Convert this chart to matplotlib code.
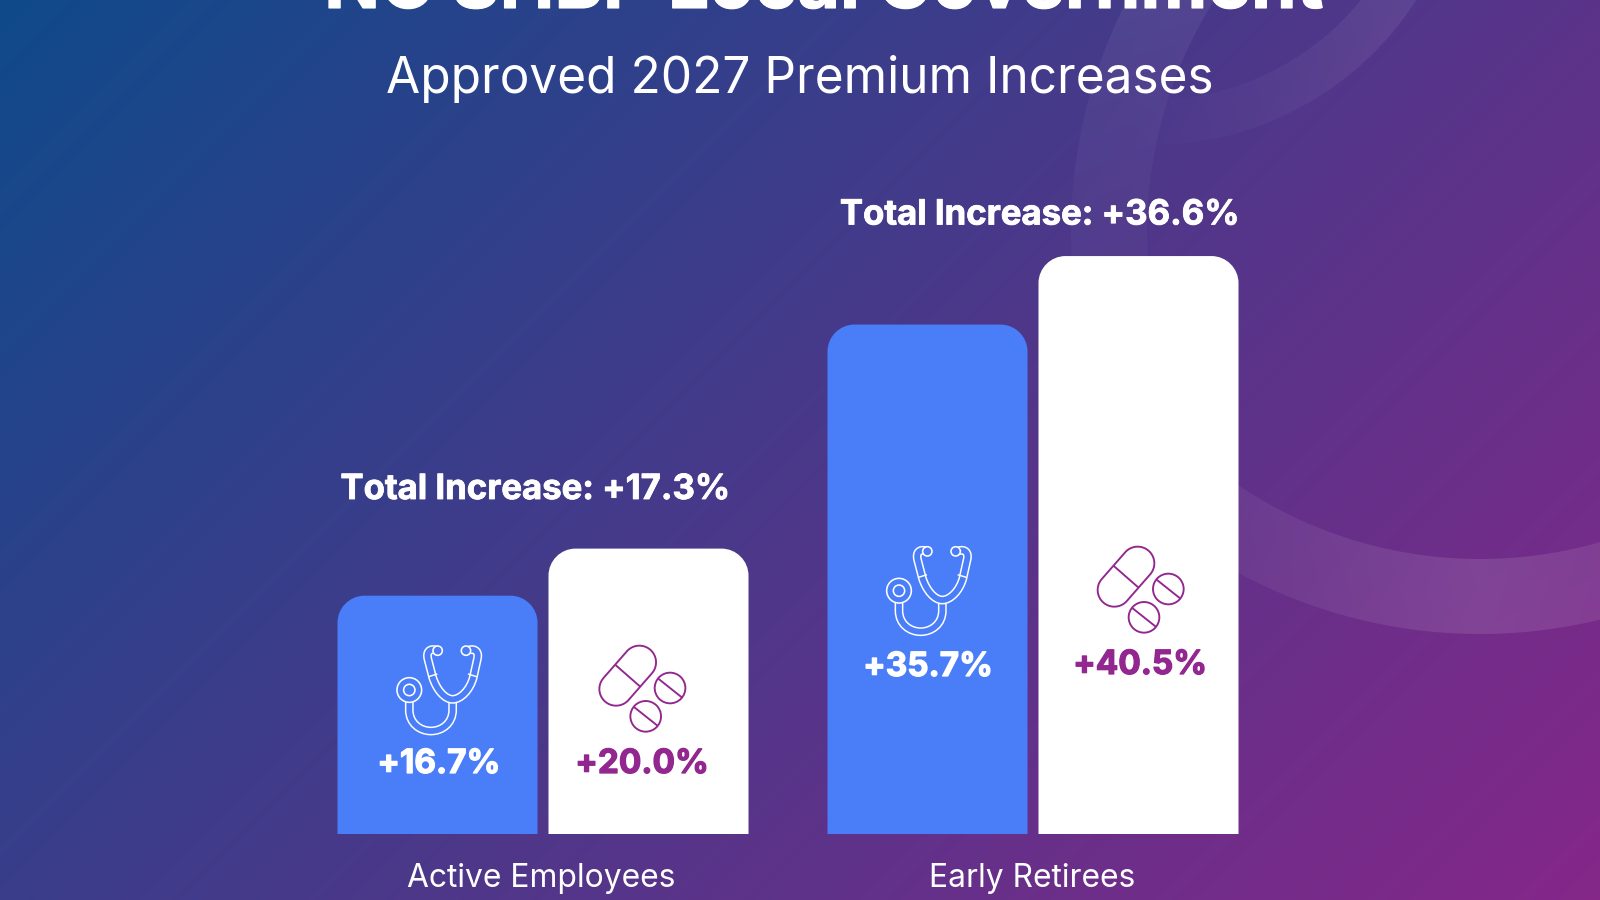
import numpy as np
import matplotlib
matplotlib.use("Agg")
import matplotlib.pyplot as plt
import matplotlib.patheffects as pe
from matplotlib.path import Path
from matplotlib.patches import PathPatch, Circle
from matplotlib.transforms import Affine2D
from matplotlib.colors import to_rgb

# ---------- data ----------
groups = ["Active Employees", "Early Retirees"]
medical = [16.7, 35.7]
pharmacy = [20.0, 40.5]
totals = [17.3, 36.6]
title_text = "NC SHBP Local Government"
subtitle_text = "Approved 2027 Premium Increases"

# ---------- layout (pixels of the 1600x900 canvas) ----------
W, H = 1600, 900
BASE_PY = 834.0
PX_PER_PCT = 14.27
GROUP0_PX = 543.0
GROUP_STEP = 490.0
BAR_W = 200 / GROUP_STEP
BAR_OFF = 105.5 / GROUP_STEP
RADIUS = 27.0
BLUE = "#4a7ef9"
PURPLE = "#92278f"
FONT = "Inter"

def dx(px):
    return (px - GROUP0_PX) / GROUP_STEP
def dy(py):
    return (BASE_PY - py) / PX_PER_PCT

fig = plt.figure(figsize=(16, 9), dpi=100)

# ---------- background ----------
bg = fig.add_axes([0, 0, 1, 1], zorder=0)
bg.axis("off")
yy, xx = np.mgrid[0:H, 0:W] + 0.5
t = (xx + yy) / (W + H)
c0, c1 = np.array(to_rgb("#0f4a8b")), np.array(to_rgb("#852789"))
img = c0 + t[..., None] * (c1 - c0)

def band(cx, cy, r0, r1):
    d = np.hypot(xx - cx, yy - cy)
    return np.clip(d - r0 + 0.5, 0, 1) * np.clip(r1 - d + 0.5, 0, 1)

ring_a = band(1480, 126, 433, 508) * (xx > 1150) * (yy > 126) * np.interp(xx, [1238, 1480, 1600], [0.05, 0.11, 0.09])
hook_a = band(1584, 233, 437, 513) * (yy < 400) * (xx < 1400) * np.interp(yy, [0, 100, 260], [0.06, 0.04, 0.025])
arc_a = band(1151, -170, 270, 315) * np.interp(xx, [1130, 1260, 1400], [0.0, 0.03, 0.07])
for a in (ring_a, hook_a, arc_a):
    img = img * (1 - a[..., None]) + a[..., None]
bg.imshow(img, extent=(0, W, H, 0), aspect="auto", interpolation="bilinear")

# ---------- chart ----------
ax = fig.add_axes([0, 0, 1, 1], zorder=1)
ax.patch.set_alpha(0)
ax.set_xlim(dx(0), dx(W))
ax.set_ylim(dy(H), dy(0))
ax.axis("off")

def rounded_bar(x_center, value, color):
    x0, x1 = x_center - BAR_W / 2, x_center + BAR_W / 2
    rx, ry = RADIUS / GROUP_STEP, RADIUS / PX_PER_PCT
    k = 0.45
    verts = [(x0, 0), (x0, value - ry),
             (x0, value - ry * k), (x0 + rx * k, value), (x0 + rx, value),
             (x1 - rx, value),
             (x1 - rx * k, value), (x1, value - ry * k), (x1, value - ry),
             (x1, 0), (x0, 0)]
    codes = [Path.MOVETO, Path.LINETO,
             Path.CURVE4, Path.CURVE4, Path.CURVE4,
             Path.LINETO,
             Path.CURVE4, Path.CURVE4, Path.CURVE4,
             Path.LINETO, Path.CLOSEPOLY]
    ax.add_patch(PathPatch(Path(verts, codes), facecolor=color, edgecolor="none", zorder=2))

xpos = np.arange(len(groups))
for i in xpos:
    rounded_bar(i - BAR_OFF, medical[i], BLUE)
    rounded_bar(i + BAR_OFF, pharmacy[i], "white")

# ---------- icons ----------
def icon_tf(px, py):
    return Affine2D().scale(1 / 3, -1 / 3).translate(px, H - py)

LW = 0.72  # points per pixel

def stethoscope(px, py):
    tf = icon_tf(px, py)
    def P(v, c):
        return Path(np.array(v, float) - [328, 450], c)
    L, C, M = Path.LINETO, Path.CURVE4, Path.MOVETO
    upper = P([(318, 330), (300, 325), (288, 335), (294, 358), (308, 412),
               (320, 450), (345, 478), (368, 478),
               (392, 478), (420, 450), (430, 412),
               (442, 358), (448, 335), (435, 325), (418, 330)],
              [M, C, C, C, L, C, C, C, C, C, C, L, C, C, C])
    lower = P([(238, 485), (238, 510), (238, 550), (270, 573), (303, 573),
               (336, 573), (368, 550), (368, 510), (368, 488)],
              [M, L, C, C, C, C, C, C, L])
    for path in (lower, upper):
        ax.add_patch(PathPatch(path, fc="none", ec="white", lw=8.8 * LW, capstyle="butt",
                               transform=tf, zorder=3))
        ax.add_patch(PathPatch(path, fc="none", ec=BLUE, lw=5.8 * LW, capstyle="butt",
                               transform=tf, zorder=3))
    for a, b in [((296, 410), (322, 402)), ((414, 402), (440, 410))]:
        seg = P([a, b], [M, L])
        ax.add_patch(PathPatch(seg, fc="none", ec="white", lw=1.5 * LW, transform=tf, zorder=3))
    for c, r in [((323, 332), 14), ((408, 332), 14), ((238, 450), 37), ((238, 450), 17)]:
        ax.add_patch(Circle((c[0] - 328, c[1] - 450), r, fc=BLUE, ec="white", lw=1.6 * LW,
                            transform=tf, zorder=4))

def pills(px, py):
    tf = icon_tf(px, py)
    off = np.array([935, 445])
    e1, e2 = np.array([928.0, 368.0]), np.array([858.0, 448.0])
    r = 50.0
    axis = (e1 - e2) / np.hypot(*(e1 - e2))
    base = np.arctan2(axis[1], axis[0])
    th1 = np.linspace(base - np.pi / 2, base + np.pi / 2, 40)
    th2 = th1 + np.pi
    pts = np.vstack([e1 + r * np.c_[np.cos(th1), np.sin(th1)],
                     e2 + r * np.c_[np.cos(th2), np.sin(th2)]])
    pts = np.vstack([pts, pts[0]])
    ax.add_patch(PathPatch(Path(pts - off), fc="none", ec=PURPLE, lw=1.9 * LW, transform=tf, zorder=3))
    mid = (e1 + e2) / 2
    perp = np.array([-axis[1], axis[0]]) * r
    ax.add_patch(PathPatch(Path(np.array([mid - perp, mid + perp]) - off), fc="none", ec=PURPLE,
                           lw=1.9 * LW, transform=tf, zorder=3))
    for c in [(1020.0, 445.0), (947.0, 530.0)]:
        c = np.array(c)
        ax.add_patch(Circle(c - off, 46, fc="none", ec=PURPLE, lw=1.9 * LW, transform=tf, zorder=3))
        v = np.array([0.78, 0.62]) * 46
        ax.add_patch(PathPatch(Path(np.array([c - v, c + v]) - off), fc="none", ec=PURPLE,
                               lw=1.9 * LW, transform=tf, zorder=3))

steth_pos = [(439.3, 690), (929, 590.7)]
pill_pos = [(641.7, 688), (1140, 589)]
for p in steth_pos:
    stethoscope(*p)
for p in pill_pos:
    pills(*p)

# ---------- text ----------
med_lab_pos = [(438.8, 764), (928, 667)]
pha_lab_pos = [(642, 764), (1140, 665)]
tot_lab_pos = [(535, 490), (1039.5, 215.5)]
cat_lab_pos = [(541, 878), (1032, 878)]

def heavy(color, w):
    return [pe.withStroke(linewidth=w, foreground=color)]

def put(px, py, s, **kw):
    kw.setdefault("family", FONT)
    ax.text(dx(px), dy(py), s, ha="center", va="center", zorder=5, **kw)

for i in xpos:
    put(*med_lab_pos[i], f"+{medical[i]:.1f}%", color="white", fontsize=24, fontweight="bold",
        path_effects=heavy("white", 0.9))
    put(*pha_lab_pos[i], f"+{pharmacy[i]:.1f}%", color=PURPLE, fontsize=24, fontweight="bold",
        path_effects=heavy(PURPLE, 0.9))
    put(*tot_lab_pos[i], f"Total Increase: +{totals[i]:.1f}%", color="white", fontsize=25,
        fontweight="bold", path_effects=heavy("white", 0.6))
    put(*cat_lab_pos[i], groups[i], color="white", fontsize=22.9)

put(800, 79.5, subtitle_text, color="white", fontsize=35.7)
ax.text(dx(824), dy(8), title_text, ha="center", va="baseline", color="white", fontsize=52.8,
        fontweight="bold", family=FONT, zorder=5, path_effects=heavy("white", 0.8))

fig.savefig("out.png", dpi=100)
